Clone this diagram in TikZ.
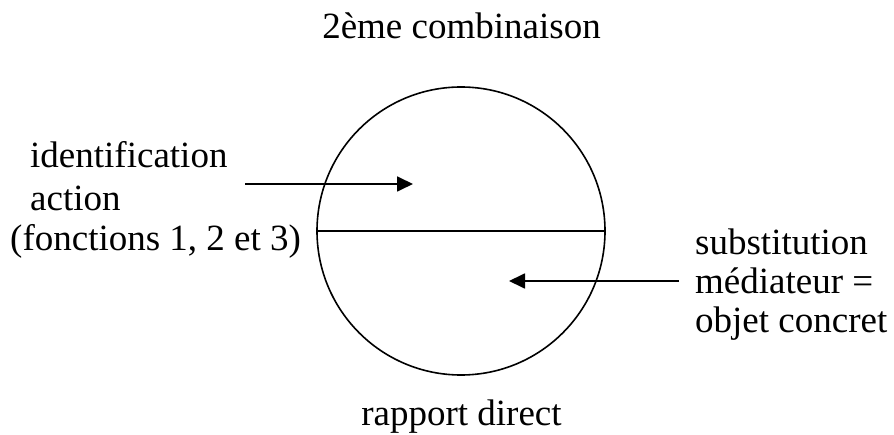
\documentclass[tikz,border=0pt]{standalone}
\usepackage{fontspec}
\setmainfont{Liberation Serif}
\usepackage{tikz}
\usetikzlibrary{arrows.meta}
\usetikzlibrary{calc}

\begin{document}
\begin{tikzpicture}[
        x=1pt, y=-1pt, % unidades en puntos, eje y hacia abajo
        font=\fontsize{37}{42}\selectfont,
        % --- Estilos personalizados ---
        disco/.style={draw, circle, line width=1.6pt, minimum size=288pt, inner sep=0pt},
        texto/.style={inner sep=0pt, anchor=base west},
        titulo/.style={inner sep=0pt, anchor=base},
        flecha/.style={-{Triangle[length=16pt, width=15pt]}, line width=1.8pt},
    ]
        \useasboundingbox (0,0) rectangle (894,435);

        % --- 1. El círculo y su diámetro ---
        \node[disco] (disco) at (461,231) {};
        \draw[line width=1.6pt] (disco.west) -- (disco.east);

        % --- 2. Títulos arriba y abajo ---
        \node[titulo] (comb) at (461.5,39) {2ème combinaison};
        \node[titulo] (rapport) at (461.5,425) {rapport direct};

        % --- 3. Texto de la izquierda ---
        \node[texto] (ident) at (30,168) {identification};
        \node[texto] (action) at (30,211) {action};
        \node[texto] (fonct) at (10,251) {(fonctions 1, 2 et 3)};

        % --- 4. Texto de la derecha ---
        \node[texto] (subst) at (695,255) {substitution};
        \node[texto] (medi) at (695,294) {médiateur =};
        \node[texto] (objet) at (695,333) {objet concret};

        % --- 5. Flechas ---
        \coordinate (haut-a) at (245,184);
        \coordinate (haut-b) at (413,184);
        \coordinate (bas-a) at (679,281);
        \coordinate (bas-b) at (509,281);
        \draw[flecha] (haut-a) -- (haut-b);
        \draw[flecha] (bas-a) -- (bas-b);

    \end{tikzpicture}
\end{document}
